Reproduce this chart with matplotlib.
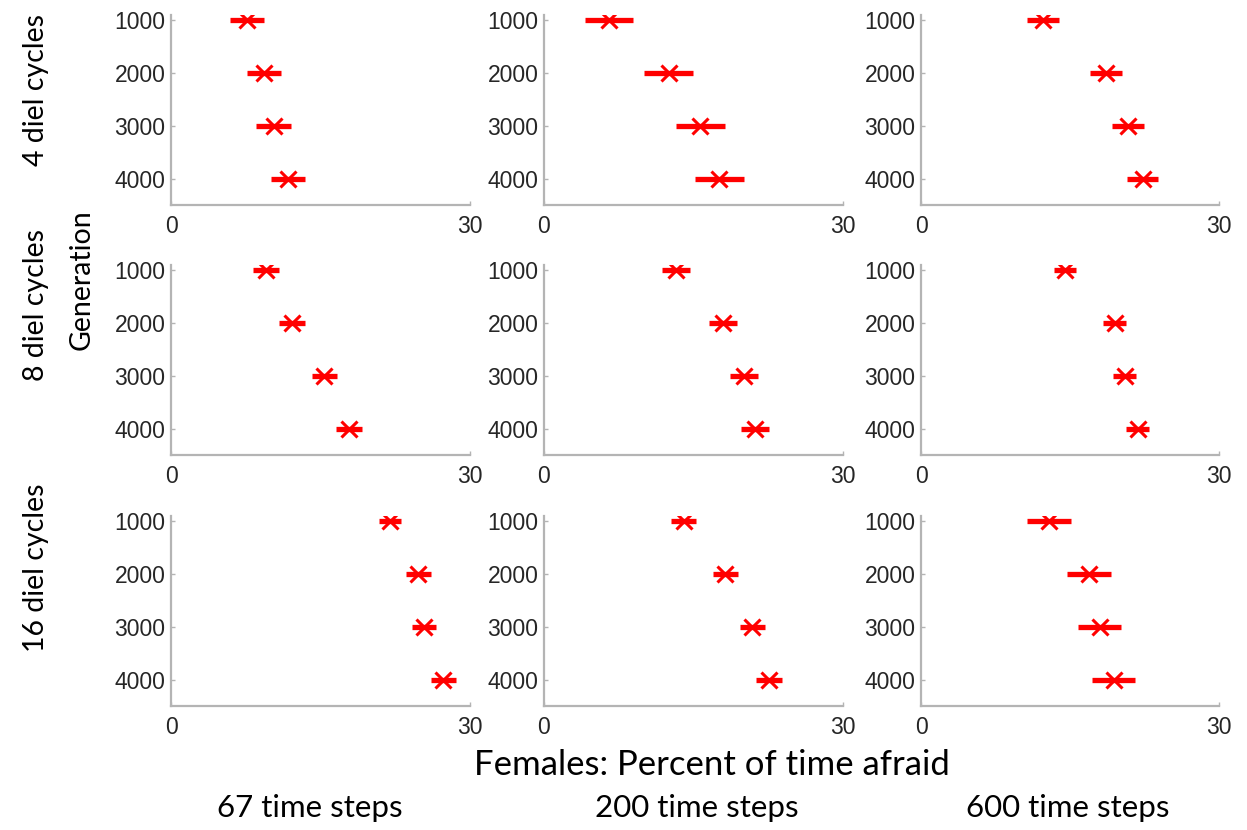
import numpy as np
import matplotlib
matplotlib.use("Agg")
from matplotlib import pyplot as plt

# generations on the y axis
generations = [1000, 2000, 3000, 4000]
cycle_labels = ['4 diel cycles', '8 diel cycles', '16 diel cycles']
step_labels = ['67 time steps', '200 time steps', '600 time steps']

# mean percent of time afraid, one row per diel-cycle setting, one list per time-step column
mean_4diel = [[7.6, 9.3, 10.3, 11.7], [6.5, 12.5, 15.7, 17.6], [12.3, 18.6, 20.8, 22.3]]
err_4diel = [[1.7, 1.7, 1.75, 1.7], [2.4, 2.45, 2.45, 2.45], [1.6, 1.6, 1.6, 1.6]]
mean_8diel = [[9.5, 12.1, 15.4, 17.9], [13.2, 18.0, 20.1, 21.2], [14.5, 19.5, 20.5, 21.8]]
err_8diel = [[1.3, 1.3, 1.3, 1.3], [1.4, 1.4, 1.4, 1.4], [1.1, 1.15, 1.15, 1.15]]
mean_16diel = [[22.0, 24.8, 25.4, 27.3], [14.0, 18.2, 20.9, 22.6], [12.9, 16.9, 18.0, 19.4]]
err_16diel = [[1.1, 1.25, 1.2, 1.25], [1.3, 1.25, 1.25, 1.3], [2.2, 2.2, 2.15, 2.15]]

means = [mean_4diel, mean_8diel, mean_16diel]
errs = [err_4diel, err_8diel, err_16diel]

W, H = 1247, 830
fig = plt.figure(figsize=(W / 100, H / 100), dpi=100)

col_left = [171, 544, 921]
col_width = [299, 299, 298]
row_top = [15, 265, 516]
row_height = 190

label_font = ['Lato', 'DejaVu Sans']
tick_font = ['Liberation Sans', 'DejaVu Sans']
spine_col = '#b4b4b4'
text_col = '#262626'

for r in range(3):
    for c in range(3):
        ax = fig.add_axes([col_left[c] / W, 1 - (row_top[r] + row_height) / H,
                           col_width[c] / W, row_height / H])
        ax.errorbar(means[r][c], generations, xerr=errs[r][c], fmt='x', color='red',
                    ecolor='red', elinewidth=3.8, capsize=0, markersize=11,
                    markeredgewidth=2.2)
        ax.set_xlim(0, 30)
        ax.set_ylim(4490, 906)
        ax.set_xticks([0, 30])
        ax.set_yticks(generations)
        for s in ['top', 'right']:
            ax.spines[s].set_visible(False)
        for s in ['left', 'bottom']:
            ax.spines[s].set_color(spine_col)
            ax.spines[s].set_linewidth(1.6)
        ax.tick_params(direction='in', length=3, width=1, color=spine_col,
                       labelsize=16.5, labelcolor=text_col)
        ax.tick_params(axis='y', pad=4)
        ax.tick_params(axis='x', pad=7)
        for lab in ax.get_xticklabels() + ax.get_yticklabels():
            lab.set_family(tick_font)

# row labels
row_label_y = [90, 305, 568]
for lab, y in zip(cycle_labels, row_label_y):
    fig.text(36 / W, 1 - y / H, lab, rotation=90, ha='center', va='center',
             fontsize=20.5, family=label_font, color='black')
fig.text(82 / W, 1 - 280 / H, 'Generation', rotation=90, ha='center', va='center',
         fontsize=20.5, family=label_font, color='black')

fig.text(712 / W, 1 - 765 / H, 'Females: Percent of time afraid', ha='center', va='center',
         fontsize=25, family=label_font, color='black')
step_x = [310, 697, 1068]
for lab, x in zip(step_labels, step_x):
    fig.text(x / W, 1 - 808 / H, lab, ha='center', va='center',
             fontsize=22.5, family=label_font, color='black')

fig.savefig('out.png', dpi=100)
